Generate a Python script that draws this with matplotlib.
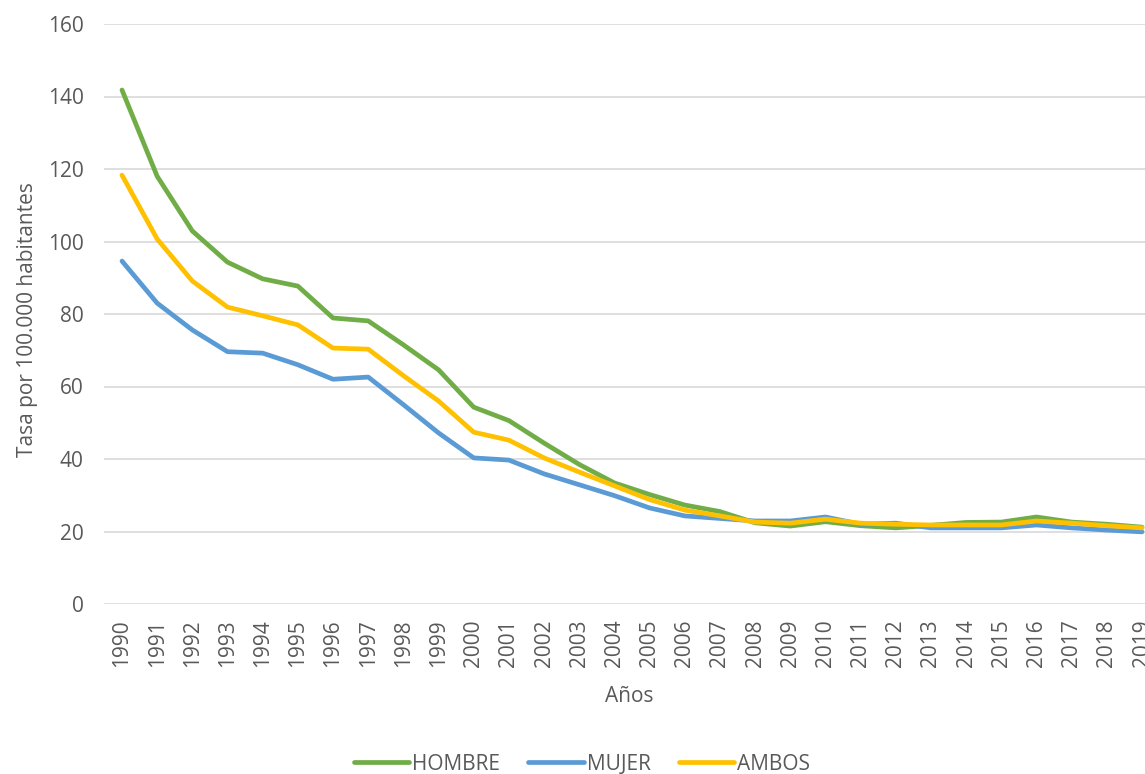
import matplotlib
matplotlib.use("Agg")
import matplotlib.pyplot as plt

years = list(range(1990, 2020))
hombre = [141.8, 118.0, 102.9, 94.3, 89.7, 87.7, 78.9, 78.1, 71.5, 64.6,
          54.3, 50.6, 44.4, 38.5, 33.4, 30.2, 27.3, 25.5, 22.4, 21.5,
          22.7, 21.6, 21.0, 21.7, 22.5, 22.6, 24.0, 22.6, 22.0, 21.2]
mujer = [94.6, 83.0, 75.6, 69.6, 69.2, 66.0, 62.0, 62.6, 55.0, 47.2,
         40.3, 39.7, 35.9, 32.9, 29.9, 26.5, 24.3, 23.6, 22.9, 22.9,
         24.0, 22.0, 22.3, 21.0, 21.0, 21.0, 21.8, 21.0, 20.4, 19.9]
ambos = [118.3, 100.7, 89.1, 81.9, 79.5, 77.0, 70.6, 70.3, 63.0, 56.0,
         47.4, 45.2, 40.3, 36.4, 32.6, 28.8, 25.9, 24.3, 22.6, 22.3,
         23.4, 22.3, 22.0, 21.8, 21.8, 21.8, 22.9, 22.3, 21.6, 21.0]
series_names = ["HOMBRE", "MUJER", "AMBOS"]
colors = ["#70AD47", "#5B9BD5", "#FFC000"]

plt.rcParams['font.family'] = ['Open Sans', 'DejaVu Sans']
text_color = "#595959"
FS = 15

W, H = 1145, 774
fig = plt.figure(figsize=(W / 100, H / 100), dpi=100)
ax = fig.add_axes([104.4 / W, 1 - 604 / H, 1055.2 / W, 580 / H])

x = list(range(len(years)))
for name, vals, c in zip(series_names, [hombre, mujer, ambos], colors):
    ax.plot(x, vals, color=c, lw=3.4, label=name,
            solid_capstyle='round', solid_joinstyle='round')

ax.set_xlim(-0.5, len(years) - 0.5)
ax.set_ylim(0, 160)
ax.set_yticks(range(0, 161, 20))
ax.set_xticks(x)
ax.set_xticklabels([str(y) for y in years], rotation=90, fontsize=FS, color=text_color)
ax.tick_params(axis='y', labelsize=FS, labelcolor=text_color, length=0, pad=15)
ax.tick_params(axis='x', length=0, pad=11)
ax.grid(axis='y', color='#D9D9D9', lw=1.2)
ax.set_axisbelow(True)
for s in ax.spines.values():
    s.set_visible(False)

ax.set_ylabel("Tasa por 100.000 habitantes", fontsize=FS, color=text_color, va='baseline')
ax.yaxis.set_label_coords((33 - 104.4) / 1055.2, 0.49)
ax.set_xlabel("Años", fontsize=FS, color=text_color, va='baseline')
ax.xaxis.set_label_coords((629 - 104.4) / 1055.2, -98 / 580)

fig.legend(loc='center', bbox_to_anchor=(582 / W, 1 - 764 / H), ncol=3, frameon=False,
           fontsize=FS, labelcolor=text_color, handlelength=2.65, handletextpad=0.15,
           columnspacing=1.35, borderpad=0, borderaxespad=0)

fig.savefig("out.png", dpi=100)
